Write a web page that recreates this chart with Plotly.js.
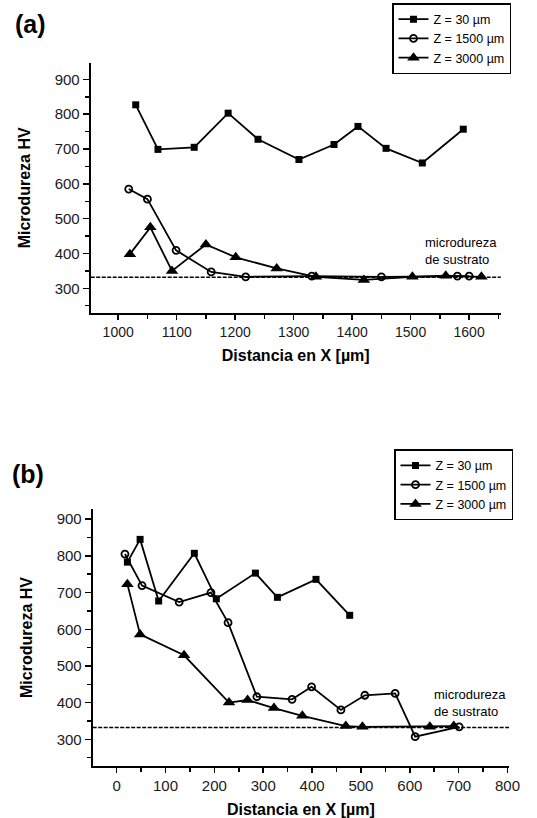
<!DOCTYPE html>
<html>
<head>
<meta charset="utf-8">
<script src="https://cdn.plot.ly/plotly-3.0.1.min.js"></script>
<style>html,body{margin:0;padding:0;background:#fff;}#chart{width:537px;height:818px;}</style>
</head>
<body>
<div id="chart"></div>
<script>
// ---- Data ----
const seriesNames = ["Z = 30 µm", "Z = 1500 µm", "Z = 3000 µm"];
const substrateHV = 332;
const substrateLabel = "microdureza<br>de sustrato";
const panelLabels = ["(a)", "(b)"];
const xTitle = "Distancia en X [µm]";
const yTitle = "Microdureza HV";

// Panel (a)
const aZ30x   = [1030, 1068, 1130, 1188, 1239, 1309, 1369, 1410, 1458, 1520, 1590];
const aZ30y   = [827, 699, 705, 803, 728, 670, 713, 765, 702, 660, 757];
const aZ1500x = [1018, 1050, 1099, 1159, 1218, 1331, 1450, 1580, 1600];
const aZ1500y = [585, 556, 409, 347, 333, 335, 333, 335, 335];
const aZ3000x = [1020, 1055, 1092, 1150, 1201, 1271, 1338, 1420, 1503, 1560, 1621];
const aZ3000y = [398, 475, 350, 426, 389, 357, 333, 324, 333, 336, 333];

// Panel (b)
const bZ30x   = [22, 48, 86, 159, 204, 284, 329, 408, 477];
const bZ30y   = [783, 845, 677, 807, 683, 753, 687, 736, 638];
const bZ1500x = [17, 52, 128, 193, 228, 287, 359, 399, 459, 508, 570, 611, 701];
const bZ1500y = [805, 719, 674, 700, 618, 416, 409, 443, 380, 420, 425, 307, 334];
const bZ3000x = [22, 48, 138, 230, 268, 322, 380, 469, 503, 641, 690];
const bZ3000y = [723, 586, 529, 400, 407, 385, 364, 336, 334, 334, 336];

// ---- Styles ----
const FONT = "Liberation Sans, Arial, sans-serif";
const W = 537, H = 818;
const px = v => v / W;
const py = v => 1 - v / H;

const lineStyle = {color: "#000", width: 1.8};
const markers = [
  {symbol: "square", size: 7, color: "#000", line: {color: "#000", width: 0}},
  {symbol: "circle-open", size: 7, color: "#000", line: {color: "#000", width: 1.8}},
  {symbol: "triangle-up", size: 11, color: "#000", line: {color: "#000", width: 0}}
];

function tr(x, y, i, ax, legend) {
  return {
    x: x, y: y, type: "scatter", mode: "lines+markers",
    name: seriesNames[i], line: lineStyle, marker: markers[i],
    xaxis: ax[0], yaxis: ax[1], legend: legend, showlegend: true,
    cliponaxis: false
  };
}

const data = [
  tr(aZ30x, aZ30y, 0, ["x", "y"], "legend"),
  tr(aZ1500x, aZ1500y, 1, ["x", "y"], "legend"),
  tr(aZ3000x, aZ3000y, 2, ["x", "y"], "legend"),
  tr(bZ30x, bZ30y, 0, ["x2", "y2"], "legend2"),
  tr(bZ1500x, bZ1500y, 1, ["x2", "y2"], "legend2"),
  tr(bZ3000x, bZ3000y, 2, ["x2", "y2"], "legend2")
];

function xAxis(domain, range, anchor, fs) {
  return {
    domain: domain, range: range, anchor: anchor,
    showgrid: false, zeroline: false, showline: true, linecolor: "#000", linewidth: 2,
    ticks: "outside", ticklen: 5, tickwidth: 1.5, tickcolor: "#000",
    tick0: 0, dtick: 100,
    minor: {ticks: "outside", ticklen: 4, tickwidth: 1.5, tickcolor: "#000", dtick: 50, tick0: 0, showgrid: false},
    tickfont: {family: FONT, size: fs, color: "#1a1a1a"},
    title: {text: xTitle, font: {family: FONT, size: 16, color: "#000", weight: "bold"}, standoff: 11}
  };
}
function yAxis(domain, range, anchor) {
  return {
    domain: domain, range: range, anchor: anchor,
    showgrid: false, zeroline: false, showline: true, linecolor: "#000", linewidth: 2,
    ticks: "outside", ticklen: 6, tickwidth: 1.5, tickcolor: "#000",
    tick0: 0, dtick: 100,
    minor: {ticks: "outside", ticklen: 4, tickwidth: 1.5, tickcolor: "#000", dtick: 50, tick0: 0, showgrid: false},
    tickfont: {family: FONT, size: 15, color: "#1a1a1a"},
    title: {text: yTitle, font: {family: FONT, size: 16, color: "#000", weight: "bold"}, standoff: 20}
  };
}

const legendBase = {
  bgcolor: "#fff", bordercolor: "#000", borderwidth: 1.5,
  xanchor: "left", yanchor: "top", traceorder: "normal",
  itemclick: false, itemdoubleclick: false
};

const layout = {
  width: W, height: H,
  margin: {l: 0, r: 0, t: 0, b: 0},
  paper_bgcolor: "#fff", plot_bgcolor: "#fff",
  font: {family: FONT, color: "#000"},
  xaxis: xAxis([px(90.7), px(500.7)], [953, 1654], "y", 14),
  yaxis: yAxis([py(313), py(62.7)], [229, 948], "x"),
  xaxis2: xAxis([px(92.7), px(509)], [-49, 803], "y2", 15),
  yaxis2: yAxis([py(765.7), py(509.3)], [228, 927], "x2"),
  legend: Object.assign({}, legendBase, {x: px(392), y: py(3), font: {family: FONT, size: 12.5, color: "#000"}}),
  legend2: Object.assign({}, legendBase, {x: px(394), y: py(449.3), font: {family: FONT, size: 12.5, color: "#000"}}),
  shapes: [
    {type: "line", xref: "x domain", yref: "y", x0: 0, x1: 1, y0: substrateHV, y1: substrateHV,
     line: {color: "#000", width: 1.5, dash: "4px,1.5px"}, layer: "below"},
    {type: "line", xref: "x2 domain", yref: "y2", x0: 0, x1: 1, y0: substrateHV, y1: substrateHV,
     line: {color: "#000", width: 1.5, dash: "4px,1.5px"}, layer: "below"}
  ],
  annotations: [
    {text: panelLabels[0], xref: "paper", yref: "paper", x: px(13), y: py(24), xanchor: "left", yanchor: "middle",
     showarrow: false, font: {family: FONT, size: 25, color: "#000", weight: "bold"}},
    {text: panelLabels[1], xref: "paper", yref: "paper", x: px(10), y: py(474), xanchor: "left", yanchor: "middle",
     showarrow: false, font: {family: FONT, size: 25, color: "#000", weight: "bold"}},
    {text: substrateLabel, xref: "paper", yref: "paper", x: px(423), y: py(251), xanchor: "left", yanchor: "middle",
     align: "left", showarrow: false, font: {family: FONT, size: 13, color: "#000"}},
    {text: substrateLabel, xref: "paper", yref: "paper", x: px(432), y: py(702.5), xanchor: "left", yanchor: "middle",
     align: "left", showarrow: false, font: {family: FONT, size: 13, color: "#000"}}
  ],
  showlegend: true
};

Plotly.newPlot("chart", data, layout, {staticPlot: true, displayModeBar: false});
</script>
</body>
</html>
